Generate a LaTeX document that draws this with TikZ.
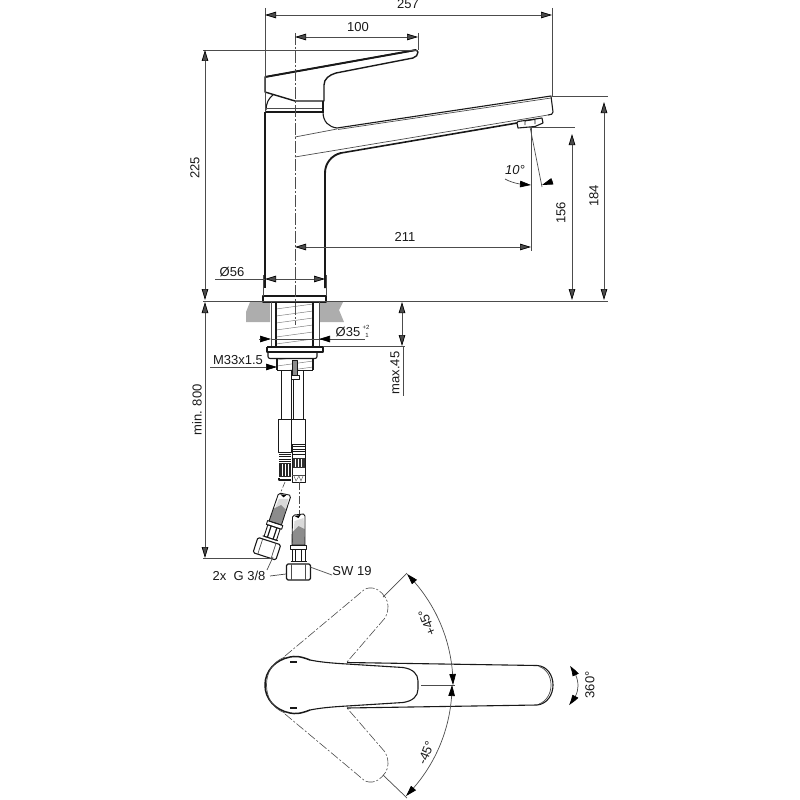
\documentclass[tikz,border=0pt]{standalone}
\usepackage{fontspec}
\setmainfont{Liberation Sans}
\usetikzlibrary{arrows.meta,bending}
\tikzset{
	thinline/.style={line width=0.7pt,color=black!70},
	outline/.style={line width=1.1pt,color=black!90,line join=round},
	thickline/.style={line width=1.9pt,color=black!90,line join=round},
	centreline/.style={line width=0.7pt,color=black!70,dash pattern=on 12pt off 2pt on 2pt off 2pt},
	phantomline/.style={line width=0.6pt,color=black!70,dash pattern=on 9pt off 2pt on 2pt off 2pt},
	dimboth/.style={thinline,{Triangle[length=11pt,width=6.5pt,color=black]}-{Triangle[length=11pt,width=6.5pt,color=black]}},
	dimend/.style={thinline,-{Triangle[length=11pt,width=6.5pt,color=black]}},
	dimbent/.style={thinline,{Triangle[length=11pt,width=6.5pt,color=black,bend]}-{Triangle[length=11pt,width=6.5pt,color=black,bend]}},
	dimlabel/.style={inner sep=0pt,font=\fontsize{13}{15}\selectfont,text=black!90},
	fitting/.pic={
		\fill[black!15] (-4,6) -- (5,3) -- (6,14) -- (-5,18) -- cycle;
		\fill[black!45] (-6,17) -- (0,11) -- (6,14) -- (6.5,30) -- (-6.5,30) -- cycle;
		\draw[outline,line width=0.9pt] (-6,2) -- (-4,0) -- (5,-1) -- (6.5,1) -- (6.5,30) -- (-6.5,30) -- cycle;
		\fill[black] (-4,1) -- (2,0) -- (0,3) -- cycle;
		\draw[outline,line width=0.9pt] (-8,30) rectangle (8,34);
		\draw[outline,line width=0.9pt] (-6.5,34) rectangle (6.5,46);
		\foreach \v in {-3,3}
		{
			\draw[outline,line width=1.2pt] (\v,34) -- (\v,46);
		};
		\draw[outline,line width=0.9pt] (-8,46) -- (8,46);
		\draw[outline,rounded corners=1.5pt] (-12,49) rectangle (12,65);
		\foreach \v in {-7,7}
		{
			\draw[thinline] (\v,49) -- (\v,65);
		};
	}
}
\begin{document}
\begin{tikzpicture}[x=1pt,y=-1pt]
	\useasboundingbox (0,0) rectangle (800,800);

	% named ends of the dimension and witness lines
	\foreach \n / \x / \y in {
	wa/265/8, wb/265/112, wc/552/8, wd/552/96, we/418/33, wf/418/50,
	wg/203/50, wh/295/33, wi/295/325, wj/203/301, wk/608/301, wl/608/96,
	wm/531/127, wn/531/251, wo/575/127, wp/530/127, wq/542/187,
	da/265/15, db/552/15, dc/295/37, dd/418/37, de/205/50, df/205/300,
	dg/572/134, dh/572/300, di/604/102, dj/604/300, dk/295/247, dl/531/247,
	dm/265/279, dn/325/279, do/215/279, dp/263/275, dq/263/296, dr/326/275, ds/326/296,
	dt/205/302, du/205/558, dv/203/558, dw/273/558,
	ea/402/302, eb/402/346, ec/323/346, ed/405/346, ee/403/346, ef/403/396,
	fa/259/339, fb/271/339, fc/332/339, fd/319/339, fe/365/339,
	ga/210/367, gb/277/367,
	ha/270/576, hb/286/574, hc/267/570, hd/273/557, he/310/567, hf/332/575,
	ka/383/597, kb/407/573, kc/383/775, kd/407/798, ke/421/685, kf/455/685,
	ma/570/666, mb/569/705}
	{
		\coordinate (\n) at (\x,\y);
	};

	% counter top
	\fill[black!32] (250,302) -- (270,302) -- (270,322) -- (246,322) -- (246,312) -- cycle;
	\fill[black!32] (320,302) -- (343,302) -- (339,310) -- (344,322) -- (320,322) -- cycle;

	% spout and body, elevation
	\draw[thickline] (265,112) -- (265,288);
	\draw[thickline] (325,288) -- (325,173)
		.. controls (325,163) and (332,155) .. (341,153);
	\draw[outline] (323,112) .. controls (323,122) and (329,127) .. (337,128)
		-- (551,96) -- (553,112) .. controls (553,114) and (551,115) .. (548,115);
	\draw[thinline] (338,129.5) -- (551,98);
	\draw[thinline] (295,137) -- (337,129);
	\draw[thinline] (295,157) -- (548,115);
	\draw[outline,line width=1.6pt] (341,153) -- (517,123);
	% aerator
	\draw[outline,fill=white] (517,123) -- (518,128) -- (535,126.5) -- (543,123) -- (542,118) -- (518,121.5) -- cycle;
	\draw[outline,line width=0.8pt] (525,125) -- (525,121) -- (535,119.5) -- (535,124);

	% lever
	\draw[outline,line width=1.4pt] (265,77) -- (416,50) -- (418,52)
		.. controls (418,55) and (416,57) .. (413,58) -- (336,73)
		.. controls (329,75) and (324,79) .. (324,85) -- (324,101) -- (295,101) -- (265,92) -- cycle;
	\draw[thickline] (265,77) -- (416,50);
	\draw[outline] (266,110) .. controls (266,103) and (269,98) .. (273,95);
	\draw[outline] (323,101) -- (323,112);
	\draw[thinline] (267,108) -- (322,108);
	\draw[outline] (265,112) -- (324,112);

	% base and tail
	\draw[outline] (263,296) rectangle (326,302);
	\draw[thinline] (271,302) -- (271,347) (319,302) -- (319,347);
	\begin{scope}
		\clip (276,302) rectangle (313,347);
		\foreach \h in {302,309,...,358}
		{
			\draw[line width=0.5pt,color=black!50] (276,\h) -- (313,\h-5);
		};
	\end{scope}
	\draw[outline] (276,302) -- (276,347) (313,302) -- (313,347);
	\draw[thickline,line width=1.6pt] (267,347) -- (323,347);
	\draw[outline] (267,347) -- (267,352) -- (323,352) -- (323,347);
	\draw[outline,rounded corners=2pt] (268,352) -- (268,358.5) -- (317,358.5) -- (317,352);
	\begin{scope}
		\clip (277,359) rectangle (313,370);
		\foreach \h in {360,366,...,384}
		{
			\draw[line width=0.5pt,color=black!50] (277,\h) -- (313,\h-5);
		};
	\end{scope}
	\draw[outline] (277,359) -- (277,370) (313,359) -- (313,370);
	\draw[thickline] (277,370.5) -- (313,370.5);
	\fill[black!45] (292,360) rectangle (297,375);
	\draw[outline,line width=0.8pt] (292,360) rectangle (297,375);
	\draw[outline,line width=0.9pt,fill=white] (291,375) rectangle (299,379);

	% hoses
	\draw[outline,line width=0.9pt] (281,371) -- (281,419) (291,371) -- (291,419) (293,379) -- (293,419) (303,371) -- (303,419);
	\draw[outline,line width=0.9pt] (278,419.5) rectangle (291,452);
	\draw[outline,line width=0.9pt] (291,419.5) rectangle (305,444);
	\foreach \h in {452,454,456,459,461}
	{
		\draw[outline,line width=0.7pt] (279,\h) -- (291,\h);
	};
	\fill[black!85] (279,463) rectangle (291,477);
	\foreach \v in {282,285,288}
	{
		\draw[color=white,line width=0.8pt] (\v,464) -- (\v,476);
	};
	\draw[thickline] (279,478) -- (279,480) -- (291,480);
	\foreach \h in {444,446,449,451,454}
	{
		\draw[outline,line width=0.7pt] (292,\h) -- (305,\h);
	};
	\fill[black!80] (292,458) rectangle (305,468);
	\foreach \v in {295,298,301}
	{
		\draw[color=white,line width=0.7pt] (\v,459) -- (\v,467);
	};
	\draw[outline,line width=0.8pt] (292,444) rectangle (305,482);
	\draw[thinline] (292,475) -- (305,475);
	\draw[line width=0.5pt,color=black!60] (294,476) -- (296,481) -- (299,476) -- (301,481) -- (303,476);
	\draw[phantomline,dash pattern=on 6pt off 2pt on 2pt off 2pt] (285,482) -- (280,494);
	\draw[phantomline,dash pattern=on 8pt off 2pt on 2pt off 2pt] (299,482) -- (299,515);

	% loose fittings
	\pic[rotate=-18] (fita) at (284.5,494.5) {fitting};
	\pic (fitb) at (298.5,515) {fitting};

	% plan view
	\draw[phantomline] (285,656) -- (365,589) .. controls (370,587) and (375,588) .. (378,590)
		.. controls (384,594) and (388,600) .. (388,606) .. controls (388,611) and (387,614) .. (385,618) -- (347,662);
	\draw[phantomline] (285,714) -- (365,781) .. controls (370,783) and (375,782) .. (378,780)
		.. controls (384,776) and (388,770) .. (388,764) .. controls (388,759) and (387,756) .. (385,752) -- (347,708);
	\draw[outline] (347,662.5) -- (537,665.5) .. controls (547,666) and (553,675) .. (553,685)
		.. controls (553,695) and (547,704) .. (537,705) -- (347,708);
	\draw[thinline] (539,666.5) .. controls (547,669) and (551,677) .. (551,685) .. controls (551,693) and (547,701) .. (539,704);
	\draw[thickline,line width=1.5pt] (310,660) .. controls (300,656) and (295,656) .. (290,657)
		.. controls (275,660) and (265,671) .. (265,685)
		.. controls (265,699) and (275,710) .. (290,713)
		.. controls (295,714) and (300,714) .. (310,710);
	\draw[outline] (310,660) .. controls (320,662) and (330,663) .. (347,664) -- (403,667.5)
		.. controls (413,669) and (418,674) .. (418,681) -- (418,689)
		.. controls (418,696) and (413,701) .. (403,702.5) -- (347,706)
		.. controls (330,707) and (320,708) .. (310,710);
	\draw[thinline] (285,657) .. controls (272,662) and (266.5,673) .. (266.5,685)
		.. controls (266.5,697) and (272,708) .. (285,713);
	\draw[outline] (290,662) -- (297,662) (290,708) -- (297,708);

	% witness lines
	\foreach \i / \j in {
	wa/wb, wc/wd, we/wf, wg/wf, wj/wk, wd/wl, wm/wn, wp/wo, wp/wq,
	dp/dq, dr/ds, dv/dw, ec/ed, ee/ef, ha/hb, hc/hd, he/hf,
	ka/kb, kc/kd, ke/kf, do/dm}
	{
		\path[thinline] (\i) edge (\j);
	};
	\draw[centreline] (wh) -- (wi);

	% dimensions
	\foreach \i / \j in {
	da/db, dc/dd, de/df, dg/dh, di/dj, dk/dl, dt/du, ea/eb, dm/dn}
	{
		\path[dimboth] (\i) edge (\j);
	};
	\draw[dimend] (fa) -- (fb);
	\draw[thinline] (fb) -- (fc);
	\draw[dimend] (fe) -- (fd);
	\draw[dimend] (ga) -- (gb);

	% angle arcs
	\draw[dimend] (505,179) .. controls (512,183) and (522,185) .. (531,185);
	\draw[dimend] (553,181) .. controls (549,183) and (546,184) .. (542,185);
	\draw[dimbent] (407,574) arc[start angle=-45,end angle=0,radius=157];
	\draw[dimbent] (452,685) arc[start angle=0,end angle=45,radius=157];
	\draw[dimbent] (ma) .. controls (576,673) and (578,680) .. (578,686) .. controls (578,692) and (575,699) .. (mb);

	% texts
	\node[dimlabel] (t257) at (408,4.5) {257};
	\node[dimlabel] (t100) at (358,27) {100};
	\node[dimlabel,rotate=90] (t225) at (195,168) {225};
	\node[dimlabel,font=\fontsize{13}{15}\selectfont\itshape] (t10) at (515,170) {10°};
	\node[dimlabel] (t211) at (405,237) {211};
	\node[dimlabel,rotate=90] (t156) at (561,213) {156};
	\node[dimlabel,rotate=90] (t184) at (594,196) {184};
	\node[dimlabel] (t56) at (232,272) {Ø56};
	\node[dimlabel] (t35) at (348,332) {Ø35};
	\node[dimlabel,font=\fontsize{6}{7}\selectfont] (t35a) at (366,327) {+2};
	\node[dimlabel,font=\fontsize{6}{7}\selectfont] (t35b) at (367,335.5) {1};
	\node[dimlabel] (tm33) at (238,360) {M33x1.5};
	\node[dimlabel,rotate=90] (tmax) at (395,373) {max.45};
	\node[dimlabel,rotate=90] (tmin) at (197,410) {min. 800};
	\node[dimlabel] (tg) at (239,576) {2x\ \ G 3/8};
	\node[dimlabel] (tsw) at (352,571) {SW 19};
	\node[dimlabel,rotate=112] (tplus) at (427,623) {+45°};
	\node[dimlabel,rotate=68] (tminus) at (426,753) {-45°};
	\node[dimlabel,rotate=90] (t360) at (590,685) {360°};
\end{tikzpicture}
\end{document}
